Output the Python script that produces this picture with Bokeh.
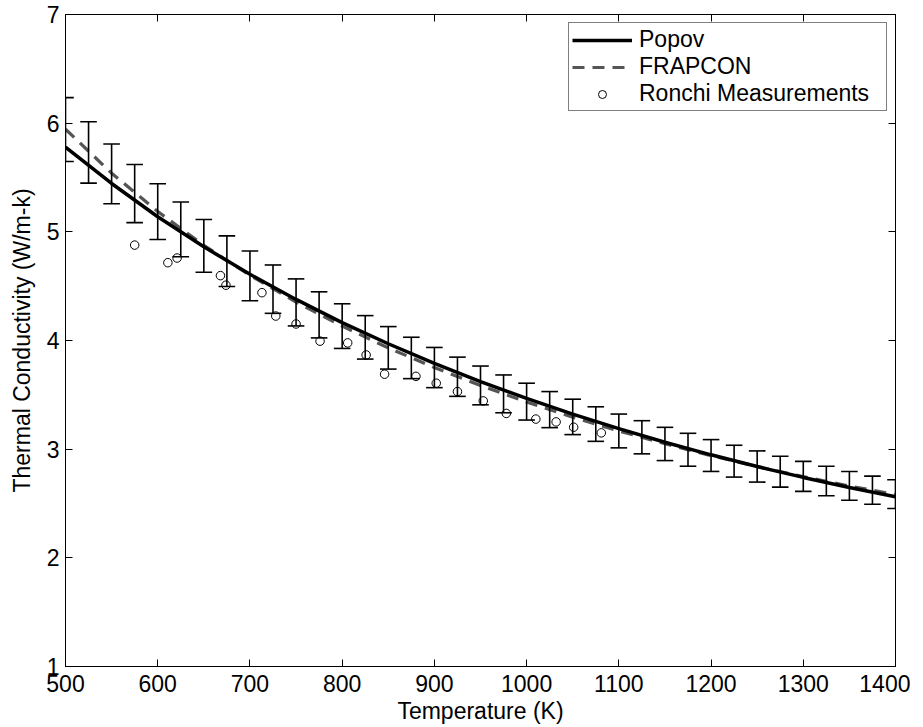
from bokeh.plotting import figure
from bokeh.models import LinearAxis, FixedTicker, Range1d, Legend, LegendItem, ColumnDataSource
from bokeh.embed import file_html
from bokeh.resources import INLINE

# ---- data ----
x_ticks = [500, 600, 700, 800, 900, 1000, 1100, 1200, 1300, 1400]
y_ticks = [1, 2, 3, 4, 5, 6, 7]

curve_T = [500, 550, 600, 650, 700, 750, 800, 850, 900, 950, 1000,
           1050, 1100, 1150, 1200, 1250, 1300, 1350, 1400]
popov_k = [5.780, 5.445, 5.139, 4.862, 4.609, 4.378, 4.165, 3.970, 3.789, 3.622, 3.467,
           3.323, 3.189, 3.064, 2.948, 2.840, 2.740, 2.647, 2.562]
frapcon_k = [5.945, 5.540, 5.187, 4.876, 4.600, 4.354, 4.132, 3.932, 3.751, 3.586, 3.434,
             3.295, 3.168, 3.050, 2.941, 2.840, 2.747, 2.661, 2.582]

err_T = [500, 525, 550, 575, 600, 625, 650, 675, 700, 725, 750, 775, 800, 825, 850, 875,
         900, 925, 950, 975, 1000, 1025, 1050, 1075, 1100, 1125, 1150, 1175, 1200, 1225,
         1250, 1275, 1300, 1325, 1350, 1375, 1400]
err_upper = [6.235, 6.013, 5.808, 5.619, 5.442, 5.274, 5.113, 4.963, 4.823, 4.695, 4.567,
             4.448, 4.338, 4.229, 4.128, 4.030, 3.936, 3.847, 3.765, 3.683, 3.607, 3.530,
             3.460, 3.390, 3.323, 3.262, 3.201, 3.146, 3.088, 3.036, 2.984, 2.935, 2.888,
             2.843, 2.795, 2.752, 2.719]
err_lower = [5.647, 5.448, 5.259, 5.085, 4.930, 4.771, 4.628, 4.497, 4.366, 4.250, 4.134,
             4.024, 3.927, 3.829, 3.737, 3.649, 3.566, 3.486, 3.408, 3.335, 3.268, 3.198,
             3.134, 3.072, 3.012, 2.957, 2.895, 2.843, 2.795, 2.743, 2.697, 2.651, 2.612,
             2.571, 2.530, 2.493, 2.454]

ronchi_T = [575, 611, 621, 668, 674, 713, 728, 750, 776, 806, 826, 846, 880, 902, 925,
            953, 978, 1010, 1032, 1051, 1081]
ronchi_k = [4.878, 4.716, 4.759, 4.597, 4.509, 4.440, 4.225, 4.152, 3.994, 3.978, 3.867,
            3.690, 3.670, 3.607, 3.530, 3.444, 3.329, 3.277, 3.251, 3.202, 3.150]

FONT = "Liberation Sans"
FS = "23px"
CAP_HALF = 9  # half cap width in data units (K)

p = figure(width=910, height=726, x_range=Range1d(500, 1400), y_range=Range1d(1, 7),
           output_backend="svg", toolbar_location=None,
           min_border_left=65, min_border_right=15, min_border_top=14, min_border_bottom=59)
p.background_fill_color = "white"
p.border_fill_color = "white"
p.outline_line_color = "black"
p.outline_line_width = 1
p.xgrid.visible = False
p.ygrid.visible = False

def style_axis(ax, ticks, show_labels=True, standoff=8):
    ax.ticker = FixedTicker(ticks=ticks)
    ax.axis_line_color = "black"
    ax.axis_line_width = 1
    ax.major_tick_line_color = "black"
    ax.major_tick_line_width = 1
    ax.major_tick_in = 7
    ax.major_tick_out = 0
    ax.minor_tick_line_color = None
    ax.major_label_text_font = FONT
    ax.major_label_text_color = "black"
    ax.axis_label_text_font = FONT
    ax.axis_label_text_font_style = "normal"
    ax.axis_label_text_color = "black"
    ax.axis_label_text_font_size = FS
    if show_labels:
        ax.major_label_text_font_size = FS
        ax.major_label_standoff = standoff
    else:
        ax.major_label_text_font_size = "1px"
        ax.major_label_text_color = None
        ax.major_label_standoff = 0

style_axis(p.xaxis[0], x_ticks, standoff=8)
style_axis(p.yaxis[0], y_ticks, standoff=6)
p.xaxis[0].axis_label = "Temperature (K)"
p.xaxis[0].axis_label_standoff = 3
p.yaxis[0].axis_label = "Thermal Conductivity (W/m-k)"
p.yaxis[0].axis_label_standoff = 9

top_ax = LinearAxis()
style_axis(top_ax, x_ticks, show_labels=False)
p.add_layout(top_ax, "above")
right_ax = LinearAxis()
style_axis(right_ax, y_ticks, show_labels=False)
p.add_layout(right_ax, "right")

# curves
r_frap = p.line(curve_T, frapcon_k, line_color="#555555", line_width=3.2, line_dash="12 8")
r_popov = p.line(curve_T, popov_k, line_color="black", line_width=3.5)

# error bars (stems + caps) from the data arrays
src = ColumnDataSource(dict(
    x=err_T, up=err_upper, lo=err_lower,
    xl=[t - CAP_HALF for t in err_T], xr=[t + CAP_HALF for t in err_T]))
p.segment(x0="x", y0="lo", x1="x", y1="up", source=src, line_color="black", line_width=1.6)
p.segment(x0="xl", y0="up", x1="xr", y1="up", source=src, line_color="black", line_width=1.6)
p.segment(x0="xl", y0="lo", x1="xr", y1="lo", source=src, line_color="black", line_width=1.6)

r_ronchi = p.scatter(ronchi_T, ronchi_k, marker="circle", size=8.5, fill_color=None,
                     line_color="black", line_width=1)

legend = Legend(items=[
    LegendItem(label="Popov", renderers=[r_popov]),
    LegendItem(label="FRAPCON", renderers=[r_frap]),
    LegendItem(label="Ronchi Measurements", renderers=[r_ronchi]),
], location="top_right")
legend.label_text_font = FONT
legend.label_text_font_size = "23px"
legend.label_text_color = "black"
legend.glyph_width = 60
legend.glyph_height = 20
legend.label_height = 20
legend.label_width = 244
legend.label_standoff = 7
legend.padding = 3
legend.spacing = 0
legend.margin = 8
legend.border_line_color = "black"
legend.border_line_width = 1
legend.background_fill_color = "white"
legend.background_fill_alpha = 1
p.add_layout(legend)

open("out.html", "w").write(file_html(p, INLINE))
